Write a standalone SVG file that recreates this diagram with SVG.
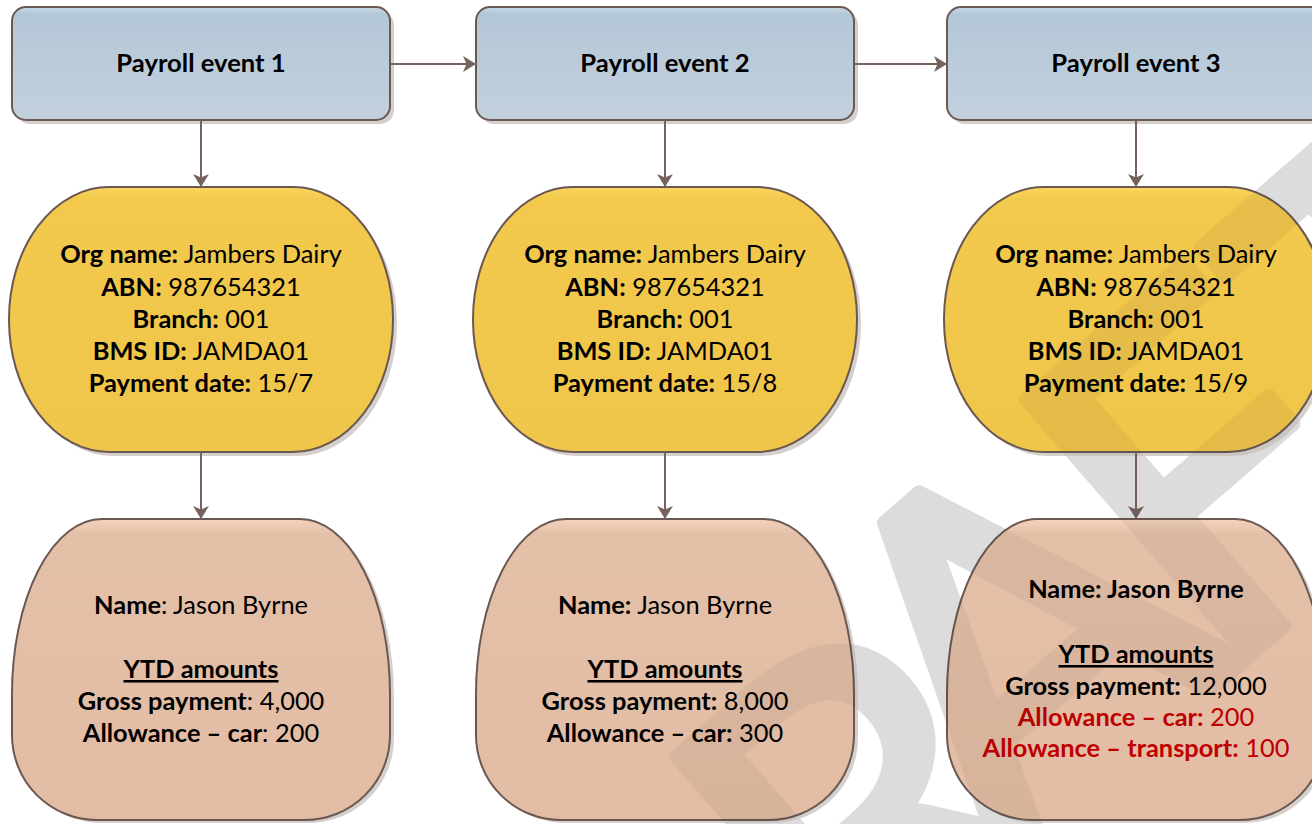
<svg xmlns="http://www.w3.org/2000/svg" width="1312" height="824" viewBox="0 0 1312 824">
<defs>
  <linearGradient id="gBlue" x1="0" y1="0" x2="0" y2="1">
    <stop offset="0" stop-color="#c9dbe8"/>
    <stop offset="0.06" stop-color="#b4c7d7"/>
    <stop offset="1" stop-color="#c2d0dc"/>
  </linearGradient>
  <linearGradient id="gYellow" x1="0" y1="0" x2="0" y2="1">
    <stop offset="0" stop-color="#fbd65e"/>
    <stop offset="0.05" stop-color="#f2c84d"/>
    <stop offset="1" stop-color="#efc54a"/>
  </linearGradient>
  <linearGradient id="gSalmon" x1="0" y1="0" x2="0" y2="1">
    <stop offset="0" stop-color="#f3d3bd"/>
    <stop offset="0.05" stop-color="#e5c0a8"/>
    <stop offset="1" stop-color="#e2bca4"/>
  </linearGradient>
  <marker id="arr" markerUnits="userSpaceOnUse" markerWidth="14" markerHeight="16" refX="13" refY="8" orient="auto">
    <path d="M0,0 L13,8 L0,16 L3.5,8 Z" fill="#76625c"/>
  </marker>
  <rect id="boxShape" x="12" y="7" width="378" height="113" rx="14" ry="14"/>
  <rect id="ovalShape" x="9" y="187" width="384" height="265" rx="100" ry="132"/>
  <path id="roundShape" d="M102,519 H300 A90,175 0 0 1 390,694 V735 A85,85 0 0 1 305,820 H97 A85,85 0 0 1 12,735 V694 A90,175 0 0 1 102,519 Z"/>
  <text id="wm" font-family="Lato, 'Liberation Sans', sans-serif" font-size="475" fill="#000" stroke="#000" stroke-width="14" stroke-linejoin="round" transform="translate(1245,660) rotate(-41)" x="-883 -536 -320 -38 230" y="40 40 0 0 0">DRAFT</text>
</defs>
<style>
  .sh{fill:#d6d0cc}
  .blue{fill:url(#gBlue);stroke:#6a5852;stroke-width:2}
  .yel{fill:url(#gYellow);stroke:#6a5852;stroke-width:2}
  .sal{fill:url(#gSalmon);stroke:#6a5852;stroke-width:2}
  .t{font-family:Lato,"Liberation Sans",sans-serif;font-size:25.4px;fill:#000;text-anchor:middle}
  .h{font-size:25.6px}
  .b{font-weight:bold}
  .red{fill:#c00000}
  .u{text-decoration:underline}
  .conn{stroke:#76625c;stroke-width:2;fill:none;marker-end:url(#arr)}
</style>
<rect x="0" y="0" width="1312" height="824" fill="#ffffff"/>
<use href="#wm" opacity="0.09"/>

<g id="event1">
  <use href="#boxShape" class="sh" x="4" y="4"/>
  <use href="#boxShape" class="blue"/>
  <text class="t h b" x="201" y="72">Payroll event 1</text>
</g>
<g id="event2" transform="translate(464,0)">
  <use href="#boxShape" class="sh" x="4" y="4"/>
  <use href="#boxShape" class="blue"/>
  <text class="t h b" x="201" y="72">Payroll event 2</text>
</g>
<g id="event3" transform="translate(935,0)">
  <use href="#boxShape" class="sh" x="4" y="4"/>
  <use href="#boxShape" class="blue"/>
  <text class="t h b" x="201" y="72">Payroll event 3</text>
</g>

<g id="org1">
  <use href="#ovalShape" class="sh" x="4" y="4"/>
  <use href="#ovalShape" class="yel"/>
  <text class="t" x="201" y="263"><tspan class="b">Org name:</tspan> Jambers Dairy</text>
  <text class="t" x="201" y="296"><tspan class="b">ABN:</tspan> 987654321</text>
  <text class="t" x="201" y="328"><tspan class="b">Branch:</tspan> 001</text>
  <text class="t" x="201" y="360"><tspan class="b">BMS ID:</tspan> JAMDA01</text>
  <text class="t" x="201" y="392"><tspan class="b">Payment date:</tspan> 15/7</text>
</g>
<g id="org2" transform="translate(464,0)">
  <use href="#ovalShape" class="sh" x="4" y="4"/>
  <use href="#ovalShape" class="yel"/>
  <text class="t" x="201" y="263"><tspan class="b">Org name:</tspan> Jambers Dairy</text>
  <text class="t" x="201" y="296"><tspan class="b">ABN:</tspan> 987654321</text>
  <text class="t" x="201" y="328"><tspan class="b">Branch:</tspan> 001</text>
  <text class="t" x="201" y="360"><tspan class="b">BMS ID:</tspan> JAMDA01</text>
  <text class="t" x="201" y="392"><tspan class="b">Payment date:</tspan> 15/8</text>
</g>
<g id="org3" transform="translate(935,0)">
  <use href="#ovalShape" class="sh" x="4" y="4"/>
  <use href="#ovalShape" class="yel"/>
  <text class="t" x="201" y="263"><tspan class="b">Org name:</tspan> Jambers Dairy</text>
  <text class="t" x="201" y="296"><tspan class="b">ABN:</tspan> 987654321</text>
  <text class="t" x="201" y="328"><tspan class="b">Branch:</tspan> 001</text>
  <text class="t" x="201" y="360"><tspan class="b">BMS ID:</tspan> JAMDA01</text>
  <text class="t" x="201" y="392"><tspan class="b">Payment date:</tspan> 15/9</text>
</g>

<g id="ytd1">
  <use href="#roundShape" class="sh" x="4" y="3"/>
  <use href="#roundShape" class="sal"/>
  <text class="t" x="201" y="614"><tspan class="b">Name</tspan>: Jason Byrne</text>
  <text class="t b u" x="201" y="678">YTD amounts</text>
  <text class="t" x="201" y="710"><tspan class="b">Gross payment</tspan>: 4,000</text>
  <text class="t" x="201" y="742"><tspan class="b">Allowance – car</tspan>: 200</text>
</g>
<g id="ytd2" transform="translate(464,0)">
  <use href="#roundShape" class="sh" x="4" y="3"/>
  <use href="#roundShape" class="sal"/>
  <text class="t" x="201" y="614"><tspan class="b">Name:</tspan> Jason Byrne</text>
  <text class="t b u" x="201" y="678">YTD amounts</text>
  <text class="t" x="201" y="710"><tspan class="b">Gross payment:</tspan> 8,000</text>
  <text class="t" x="201" y="742"><tspan class="b">Allowance – car:</tspan> 300</text>
</g>
<g id="ytd3" transform="translate(935,0)">
  <use href="#roundShape" class="sh" x="4" y="3"/>
  <use href="#roundShape" class="sal"/>
  <text class="t b" x="201" y="598">Name: Jason Byrne</text>
  <text class="t b u" x="201" y="663">YTD amounts</text>
  <text class="t" x="201" y="695"><tspan class="b">Gross payment:</tspan> 12,000</text>
  <text class="t red" x="201" y="726"><tspan class="b">Allowance – car:</tspan> 200</text>
  <text class="t red" x="201" y="757"><tspan class="b">Allowance – transport:</tspan> 100</text>
</g>

<g id="connectors">
  <path class="conn" d="M390,64 H476"/>
  <path class="conn" d="M854,64 H947"/>
  <path class="conn" d="M201,120 V187"/>
  <path class="conn" d="M201,452 V519"/>
  <path class="conn" d="M665,120 V187"/>
  <path class="conn" d="M665,452 V519"/>
  <path class="conn" d="M1136,120 V187"/>
  <path class="conn" d="M1136,452 V519"/>
</g>

<use href="#wm" opacity="0.045"/>
</svg>
